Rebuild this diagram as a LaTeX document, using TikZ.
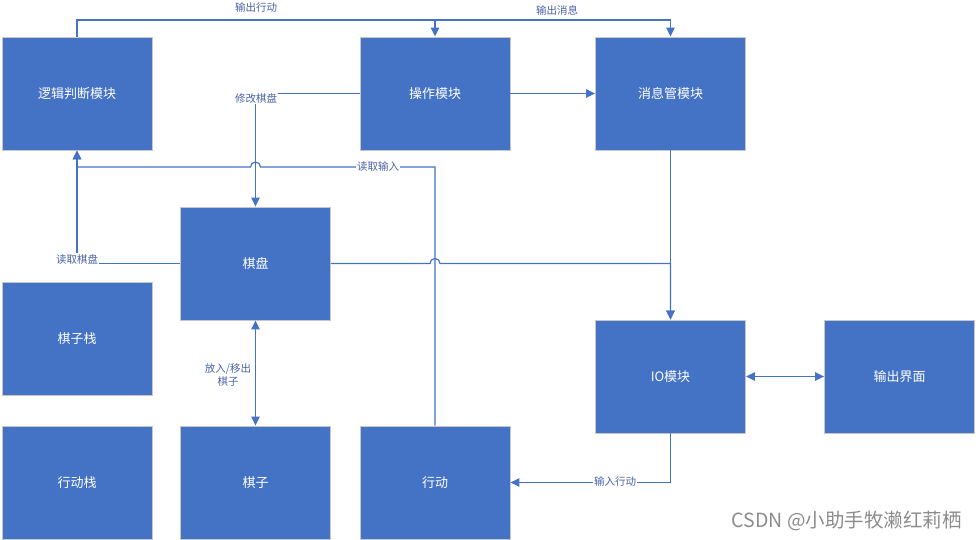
\documentclass[tikz,border=0pt]{standalone}
\usepackage{fontspec}
\setmainfont{Noto Sans CJK SC}
\usetikzlibrary{arrows.meta,calc}
\definecolor{boxblue}{HTML}{4472C4}
\definecolor{lineblue}{HTML}{4472C4}
\definecolor{labblue}{HTML}{4A62A8}
\begin{document}
\begin{tikzpicture}[x=1pt,y=-1pt,
  box/.style={draw=black!22, line width=0.9pt, fill=boxblue, text=white,
    minimum width=150pt, minimum height=113pt, inner sep=0pt,
    font=\fontsize{13}{15}\selectfont},
  conn/.style={draw=lineblue, line width=1.2pt},
  tip/.tip={Triangle[length=9pt,width=8.5pt]},
  arr/.style={conn, -tip},
  darr/.style={conn, tip-tip},
  lab/.style={text=labblue, font=\fontsize{10.5}{12.5}\selectfont, inner sep=1pt, fill=white}]
\useasboundingbox (0,0) rectangle (976,540);

\node[box] (logic) at (77,93.5) {逻辑判断模块};
\node[box] (op) at (435,93.5) {操作模块};
\node[box] (msg) at (670.5,93.5) {消息管模块};
\node[box] (board) at (255.5,263.5) {棋盘};
\node[box] (stackp) at (77,338.5) {棋子栈};
\node[box] (stacka) at (77,482.5) {行动栈};
\node[box] (piece) at (255.5,482.5) {棋子};
\node[box] (act) at (435,482.5) {行动};
\node[box] (io) at (670.5,376.5) {IO模块};
\node[box] (outui) at (899.5,376.5) {输出界面};

\coordinate (toprow) at (0,20);
\coordinate (readrow) at (0,167);

% 输出行动 / 输出消息
\draw[arr] (logic.north) -- (logic.north |- toprow) -| (op.north);
\draw[arr] (op.north |- toprow) -| (msg.north);
\node[lab] (l1) at (256,8) {输出行动};
\node[lab] (l2) at (557,10) {输出消息};

% 操作 -> 消息管
\draw[arr] (op.east) -- (msg.west);

% 修改棋盘
\draw[arr] (op.west) -| (board.north);
\node[lab] (l3) at (256,98) {修改棋盘};

% 读取输入
\draw[arr] (act.north) -- (act.north |- readrow)
  -- ($(board.north |- readrow)+(5,0)$) arc(0:-180:5)
  -- (logic.south |- readrow) -- (logic.south);
\node[lab] (l4) at (378,167) {读取输入};

% 读取棋盘
\draw[arr] (board.west) -| (logic.south);
\node[lab] (l5) at (77,259) {读取棋盘};

% 棋盘 -> IO, 消息管 -> IO
\draw[arr] (board.east) -- ($(act.north |- board.east)+(-5,0)$) arc(180:360:5) -| (io.north);
\draw[arr] (msg.south) -- (io.north);

% 放入/移出 棋子
\draw[darr] (board.south) -- (piece.north);
\node[lab, align=center, fill=none] (l6) at (228,375) {放入/移出\\棋子};

% 输入行动
\draw[arr] (io.south) |- (act.east);
\node[lab] (l7) at (615,482) {输入行动};

% IO <-> 输出界面
\draw[darr] (io.east) -- (outui.west);

% watermark
\node[text=black!45, font=\fontsize{19.5}{21}\selectfont, anchor=east, inner sep=0pt] (wm) at (962,521) {CSDN @小助手牧濑红莉栖};
\end{tikzpicture}
\end{document}
